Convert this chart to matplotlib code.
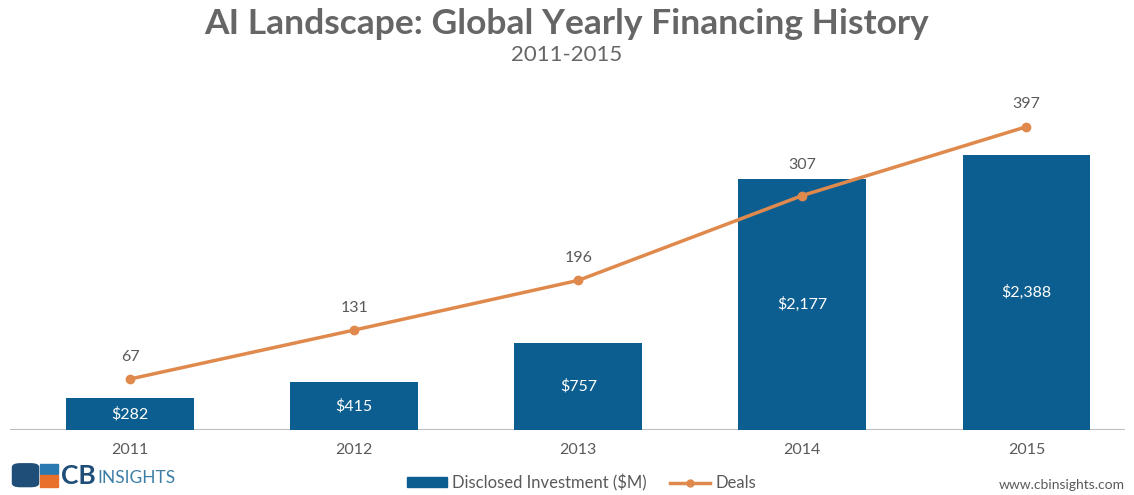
import matplotlib
matplotlib.use("Agg")
import matplotlib.pyplot as plt
from matplotlib.patches import Rectangle, FancyBboxPatch
from matplotlib.lines import Line2D
import numpy as np

plt.rcParams['font.family'] = ['Lato', 'DejaVu Sans']

years = ['2011', '2012', '2013', '2014', '2015']
investment = [282, 415, 757, 2177, 2388]
deals = [67, 131, 196, 307, 397]
bar_labels = ['$282', '$415', '$757', '$2,177', '$2,388']

bar_color = '#0d5e90'
line_color = '#e0894c'
text_gray = '#5a5a5a'

fig = plt.figure(figsize=(11.34, 4.95), dpi=100)
ax = fig.add_axes([0.009, 0.131, 0.983, 0.667])
ax2 = ax.twinx()

x = np.arange(len(years))
ax.bar(x, investment, width=0.57, color=bar_color, zorder=2)
for xi, v, lab in zip(x, investment, bar_labels):
    ax.text(xi, v / 2, lab, ha='center', va='center', color='white',
            fontsize=11.5, zorder=3)

ax2.plot(x, deals, color=line_color, lw=2.5, marker='o', markersize=6,
         zorder=4)
# label offsets (points above the marker); 2014 lifted clear of its bar
offsets = [11, 11, 11, 17, 11]
for xi, d, off in zip(x, deals, offsets):
    ax2.annotate(str(d), (xi, d), xytext=(0, off), textcoords='offset points',
                 ha='center', va='bottom', color=text_gray, fontsize=11.5)

ax.set_xlim(-0.536, 4.44)
ax.set_ylim(0, 2865)
ax2.set_ylim(0, 432)

for a in (ax, ax2):
    for s in a.spines.values():
        s.set_visible(False)
    a.set_yticks([])
ax.axhline(0, color='#bdbdbd', lw=1.5, zorder=1)
ax.set_xticks(x)
ax.set_xticklabels(years, color=text_gray, fontsize=11.5)
ax.tick_params(axis='x', length=0, pad=9)

fig.text(0.5, 0.952, 'AI Landscape: Global Yearly Financing History',
         ha='center', va='center', fontsize=25.5, fontweight='bold',
         color='#666666')
fig.text(0.5, 0.888, '2011-2015', ha='center', va='center', fontsize=16,
         color='#666666')

# legend
handles = [Rectangle((0, 0), 1, 1, color=bar_color),
           Line2D([0], [0], color=line_color, lw=2.5, marker='o', markersize=5)]
fig.legend(handles, ['Disclosed Investment ($M)', 'Deals'], loc='center',
           bbox_to_anchor=(0.513, 0.025), ncol=2, frameon=False,
           fontsize=12, labelcolor=text_gray, handlelength=2.4,
           handleheight=0.5, columnspacing=1.4, handletextpad=0.3)

# logo
fig.patches.append(FancyBboxPatch((0.011, 0.017), 0.023, 0.046,
                                  boxstyle='round,pad=0,rounding_size=0.007',
                                  transform=fig.transFigure, color='#1f4e79'))
fig.patches.append(Rectangle((0.035, 0.042), 0.016, 0.021,
                             transform=fig.transFigure, color='#2a7ab0'))
fig.patches.append(Rectangle((0.035, 0.017), 0.016, 0.023,
                             transform=fig.transFigure, color='#e8702a'))
fig.text(0.054, 0.038, 'CB', ha='left', va='center', fontsize=19,
         fontweight='bold', color='#1f4e79')
fig.text(0.0855, 0.035, 'INSIGHTS', ha='left', va='center', fontsize=12.5,
         color='#3d7ea6')
fig.text(0.992, 0.02, 'www.cbinsights.com', ha='right', va='center',
         fontsize=10, color=text_gray)

fig.savefig('out.png', dpi=100, facecolor='white')
